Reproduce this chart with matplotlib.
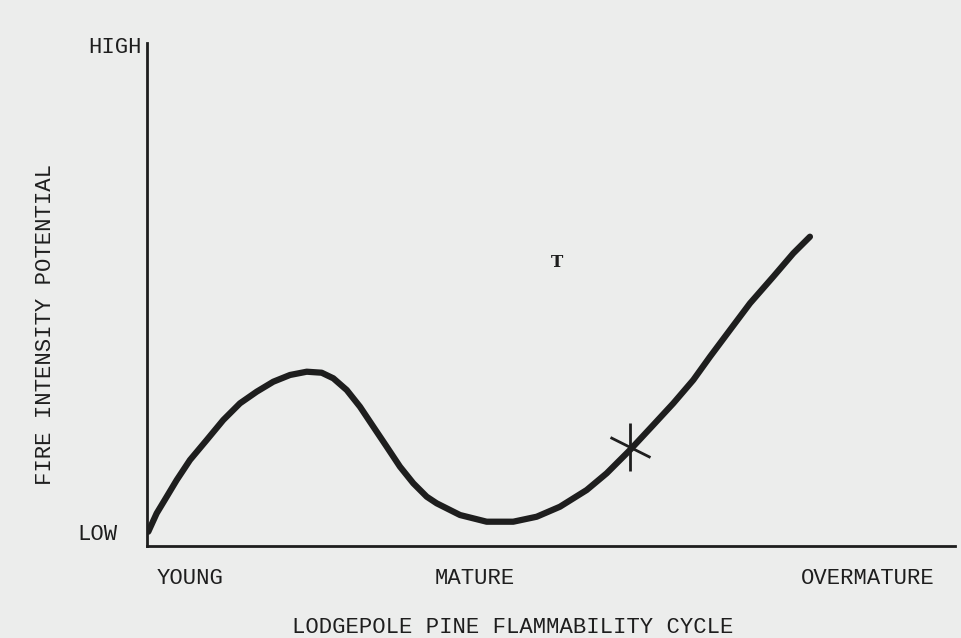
import matplotlib.pyplot as plt
from matplotlib.markers import MarkerStyle
from matplotlib.transforms import Affine2D

# curve (x: 0-100 along the cycle, y: 0-100 low->high)
cycle_x = [0.16, 1.20, 2.44, 3.68, 5.32, 7.39, 9.44, 11.51, 13.58, 15.63, 17.70,
           19.77, 21.62, 23.06, 24.72, 26.36, 28.01, 29.67, 31.31, 32.96, 34.62,
           35.85, 38.74, 42.04, 45.33, 48.23, 51.11, 54.42, 56.89, 59.78, 62.66,
           65.14, 67.61, 69.68, 72.15, 74.63, 77.51, 79.99, 82.05]
intensity = [2.84, 6.50, 9.80, 13.12, 17.10, 21.07, 25.05, 28.37, 30.68, 32.66, 34.00,
             34.65, 34.45, 33.34, 31.01, 27.69, 23.72, 19.74, 15.77, 12.47, 9.80,
             8.49, 6.16, 4.83, 4.83, 5.82, 7.81, 11.13, 14.45, 19.09, 24.06,
             28.37, 33.00, 37.63, 42.94, 48.25, 53.54, 58.19, 61.49]

mark_x = [59.8]
mark_y = [19.6]

stage_pos = [5.3, 40.6, 89.2]
stage_labels = ["YOUNG", "MATURE", "OVERMATURE"]
level_pos = [2.2, 99.2]
level_labels = ["LOW", "HIGH"]

font = "Liberation Mono"
ink = "#1e1e1e"

fig = plt.figure(figsize=(9.62, 6.38), dpi=100, facecolor="#ecedec")
ax = fig.add_axes([0.1528, 0.1442, 0.8399, 0.7884])
ax.set_facecolor("#ecedec")

ax.plot(cycle_x, intensity, color=ink, lw=4.5, solid_capstyle="round",
        solid_joinstyle="round")

# hand-drawn crossing mark on the curve
ax.plot(mark_x, mark_y, marker="|", ms=34, mew=2, color=ink, ls="none")
diag = MarkerStyle("_", transform=Affine2D().rotate_deg(-28))
ax.plot(mark_x, mark_y, marker=diag, ms=32, mew=2, color=ink, ls="none")

ax.text(50.7, 56.3, "T", family="DejaVu Serif", fontsize=12, fontweight="bold",
        color=ink, ha="center", va="center")

ax.set_xlim(0, 100)
ax.set_ylim(0, 100)
for s in ["top", "right"]:
    ax.spines[s].set_visible(False)
for s in ["left", "bottom"]:
    ax.spines[s].set_linewidth(2)
    ax.spines[s].set_color(ink)

ax.set_xticks(stage_pos)
ax.set_xticklabels(stage_labels, family=font, fontsize=16, color=ink)
ax.tick_params(axis="x", length=0, pad=15.5)
ax.set_yticks([])

# LOW / HIGH sit at different distances from the axis in the original
level_offsets = [-21, -4]
for pos, lab, off in zip(level_pos, level_labels, level_offsets):
    ax.annotate(lab, (0, pos), xytext=(off, 0), textcoords="offset points",
                family=font, fontsize=16, color=ink, ha="right", va="center",
                annotation_clip=False)

ax.text(0.453, -0.163, "LODGEPOLE PINE FLAMMABILITY CYCLE", transform=ax.transAxes,
        family=font, fontsize=16, color=ink, ha="center", va="center")
ax.text(-0.126, 0.44, "FIRE INTENSITY POTENTIAL", transform=ax.transAxes,
        family=font, fontsize=16, color=ink, ha="center", va="center", rotation=90)

fig.savefig("out.png", dpi=100, facecolor=fig.get_facecolor())
